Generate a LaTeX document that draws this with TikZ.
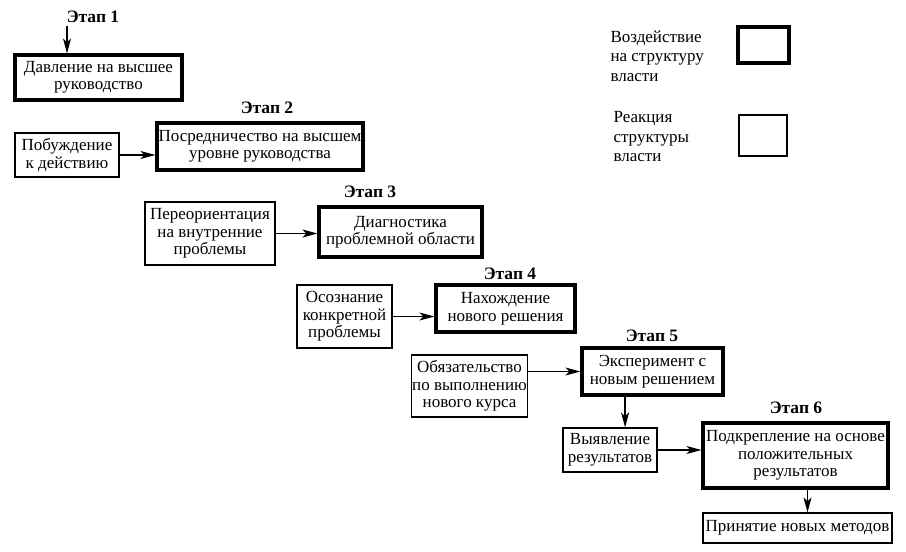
\documentclass[tikz,border=0pt]{standalone}
\usepackage{fontspec}
\setmainfont{Liberation Serif}
\usetikzlibrary{arrows.meta,calc}
\begin{document}
\begin{tikzpicture}[x=1pt, y=-1pt,
    every node/.style={font=\fontsize{17}{17.5}\selectfont},
    response/.style={draw, line width=1.2pt, align=center, inner sep=1pt},
    impact/.style={response, line width=3.2pt},
    etap/.style={font=\fontsize{17.5}{19.5}\selectfont\bfseries},
    legend/.style={anchor=west, align=left, font=\fontsize{17}{19.5}\selectfont},
    arr/.style={-{Stealth[length=15pt,width=8pt,inset=4pt]}, line width=1.3pt}]
    \useasboundingbox (0,0) rectangle (906,552);
    % stages
    \node [etap] (e1) at (93,17) {Этап 1};
    \node [impact, minimum width=167pt, minimum height=45pt] (box1) at (98.5,77.5) {Давление на высшее\\руководство};
    \node [etap] (e2) at (267,108) {Этап 2};
    \node [response, minimum width=104pt, minimum height=44pt] (side2) at (67,155) {Побуждение\\к действию};
    \node [impact, minimum width=206pt, minimum height=47pt] (box2) at (260,146.5) {Посредничество на высшем\\уровне руководства};
    \node [etap] (e3) at (370,192) {Этап 3};
    \node [response, minimum width=130pt, minimum height=63pt] (side3) at (210,233.5) {Переориентация\\на внутренние\\проблемы};
    \node [impact, minimum width=163pt, minimum height=50pt] (box3) at (400.5,232) {Диагностика\\проблемной области};
    \node [etap] (e4) at (510,274) {Этап 4};
    \node [response, minimum width=95pt, minimum height=63pt] (side4) at (344.5,316.5) {Осознание\\конкретной\\проблемы};
    \node [impact, minimum width=139pt, minimum height=47pt] (box4) at (505.5,308.5) {Нахождение\\нового решения};
    \node [etap] (e5) at (652,336) {Этап 5};
    \node [response, minimum width=115pt, minimum height=62pt] (side5) at (469.5,386) {Обязательство\\по выполнению\\нового курса};
    \node [impact, minimum width=141pt, minimum height=47pt] (box5) at (652.5,371.5) {Эксперимент с\\новым решением};
    \node [response, minimum width=94pt, minimum height=44pt] (side6) at (610,450) {Выявление\\результатов};
    \node [etap] (e6) at (796,408) {Этап 6};
    \node [impact, minimum width=185pt, minimum height=65pt] (box6) at (795.5,455.5) {Подкрепление на основе\\положительных\\результатов};
    \node [response, minimum width=189pt, minimum height=30pt] (final) at (797.5,528) {Принятие новых методов};
    % legend
    \node [legend] (leg1) at (607,56) {Воздействие\\на структуру\\власти};
    \node [impact, minimum width=51pt, minimum height=36pt] (key1) at (763.5,45) {};
    \node [legend] (leg2) at (610,137) {Реакция\\структуры\\власти};
    \node [response, minimum width=48pt, minimum height=41pt] (key2) at (763,135.5) {};
    % arrows
    \coordinate (top1) at (67,26);
    \draw [arr] (top1) -- (top1 |- box1.north);
    \draw [arr] (side2.east) -- (side2.east -| box2.west);
    \draw [arr] (side3.east) -- (side3.east -| box3.west);
    \draw [arr] (side4.east) -- (side4.east -| box4.west);
    \draw [arr] (side5.east |- box5) -- (box5.west);
    \draw [arr] ($(box5.south west)!0.31!(box5.south east)$) coordinate (d5) -- (d5 |- side6.north);
    \draw [arr] (side6.east) -- (side6.east -| box6.west);
    \draw [arr] ([xshift=12pt]box6.south) -- ([xshift=12pt]box6.south |- final.north);
\end{tikzpicture}
\end{document}
